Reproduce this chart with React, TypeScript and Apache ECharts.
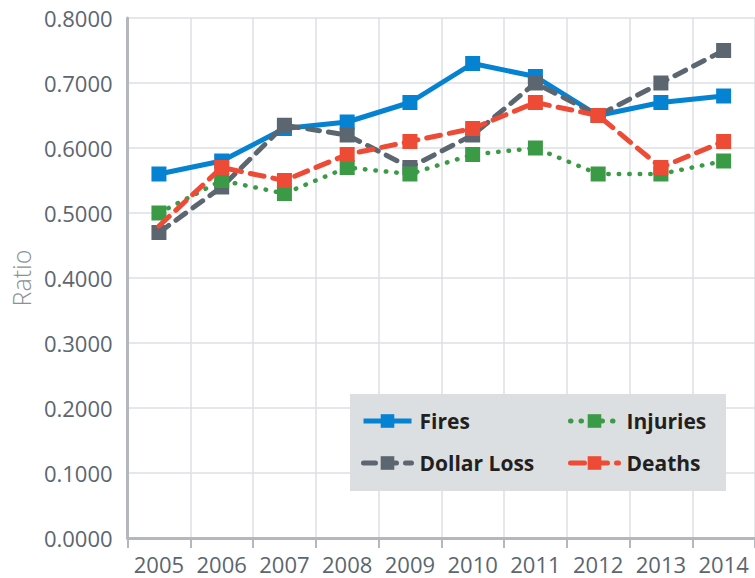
import React, { useEffect, useRef } from "react";
import * as echarts from "echarts";

const years = ["2005", "2006", "2007", "2008", "2009", "2010", "2011", "2012", "2013", "2014"];
const fires = [0.56, 0.58, 0.63, 0.64, 0.67, 0.73, 0.71, 0.65, 0.67, 0.68];
const dollarLoss = [0.47, 0.54, 0.635, 0.62, 0.57, 0.62, 0.70, 0.65, 0.70, 0.75];
const injuries = [0.50, 0.55, 0.53, 0.57, 0.56, 0.59, 0.60, 0.56, 0.56, 0.58];
const deaths = [0.48, 0.57, 0.55, 0.59, 0.61, 0.63, 0.67, 0.65, 0.57, 0.61];

const C_FIRES = "#0583d2";
const C_LOSS = "#5b6670";
const C_INJ = "#3b9a45";
const C_DEATH = "#ee4b36";
const FONT = "'Open Sans', sans-serif";

export default function App() {
  const ref = useRef<HTMLDivElement>(null);
  useEffect(() => {
    if (!ref.current) return;
    const chart = echarts.init(ref.current, undefined, { renderer: "svg" });
    const legendText = {
      fontFamily: FONT,
      fontSize: 21,
      fontWeight: "bold" as const,
      color: "#231f20",
      lineHeight: 24,
      padding: [0, 0, 0, 3],
    };
    const legendCommon = {
      orient: "vertical" as const,
      top: 409,
      itemWidth: 48,
      itemHeight: 17,
      itemGap: 18,
      padding: 0,
      z: 20,
      lineStyle: { width: 5 },
      textStyle: legendText,
    };
    const base = {
      type: "line" as const,
      symbol: "rect",
      symbolSize: 15,
      showSymbol: true,
    };
    chart.setOption({
      animation: false,
      textStyle: { fontFamily: FONT },
      grid: { left: 127, top: 18, width: 633, height: 520, containLabel: false },
      xAxis: {
        type: "category",
        data: years,
        boundaryGap: true,
        axisLine: { lineStyle: { color: "#b4b7bb", width: 3 } },
        axisTick: { show: true, interval: 0, length: 10, lineStyle: { color: "#b4b7bb", width: 2 } },
        axisLabel: { interval: 0, hideOverlap: false, color: "#5b6670", fontSize: 22, margin: 15, fontFamily: FONT },
        splitLine: { show: true, interval: 0, lineStyle: { color: "#dcdfe3", width: 1.5 } },
      },
      yAxis: {
        type: "value",
        min: 0,
        max: 0.8,
        interval: 0.1,
        name: "Ratio",
        nameLocation: "middle",
        nameGap: 94,
        nameTextStyle: { color: "#8a9197", fontSize: 25, fontFamily: FONT, fontWeight: 300 },
        axisLine: { show: true, lineStyle: { color: "#b4b7bb", width: 3 } },
        axisTick: { show: false },
        axisLabel: {
          color: "#5b6670",
          fontSize: 22,
          margin: 15,
          fontFamily: FONT,
          formatter: (v: number) => v.toFixed(4),
        },
        splitLine: { show: true, lineStyle: { color: "#dcdfe3", width: 1.5 } },
      },
      graphic: [
        {
          type: "rect",
          shape: { x: 350, y: 394, width: 376, height: 97 },
          style: { fill: "#dcdfe2" },
          z: 10,
        },
      ],
      legend: [
        { ...legendCommon, data: ["Fires", "Dollar Loss"], left: 361 },
        { ...legendCommon, data: ["Injuries", "Deaths"], left: 568 },
      ],
      series: [
        {
          ...base,
          name: "Fires",
          data: fires,
          itemStyle: { color: C_FIRES },
          lineStyle: { color: C_FIRES, width: 5 },
          z: 2,
        },
        {
          ...base,
          name: "Dollar Loss",
          data: dollarLoss,
          itemStyle: { color: C_LOSS },
          lineStyle: { color: C_LOSS, width: 5, type: [12, 9], cap: "round" },
          z: 3,
        },
        {
          ...base,
          name: "Injuries",
          data: injuries,
          itemStyle: { color: C_INJ },
          lineStyle: { color: C_INJ, width: 4.5, type: [0.5, 10], cap: "round" },
          z: 4,
        },
        {
          ...base,
          name: "Deaths",
          data: deaths.map((v, i) => (i === 0 ? { value: v, symbolSize: 0 } : v)),
          itemStyle: { color: C_DEATH },
          lineStyle: { color: C_DEATH, width: 5, type: [14, 9], cap: "round" },
          z: 5,
        },
      ],
    });
    return () => chart.dispose();
  }, []);
  return (
    <div
      ref={ref}
      style={{ position: "fixed", left: 0, top: 0, width: 755, height: 578, background: "#fff" }}
    />
  );
}
